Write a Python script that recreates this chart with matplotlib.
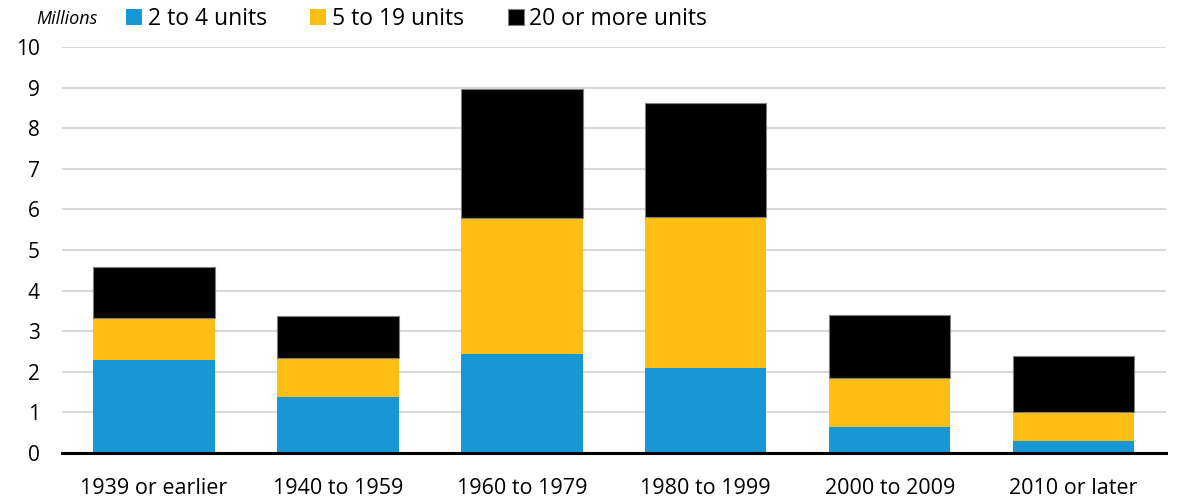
import matplotlib.pyplot as plt
import numpy as np

plt.rcParams['font.family'] = ['Open Sans', 'DejaVu Sans']

periods = ['1939 or earlier', '1940 to 1959', '1960 to 1979', '1980 to 1999', '2000 to 2009', '2010 or later']
units_2_4 = [2.30, 1.37, 2.43, 2.10, 0.63, 0.30]
units_5_19 = [1.03, 0.96, 3.36, 3.72, 1.22, 0.71]
units_20_plus = [1.24, 1.05, 3.18, 2.80, 1.56, 1.38]

fig = plt.figure(figsize=(11.81, 4.98), dpi=100)
ax = fig.add_axes([0.0525, 0.0904, 0.9345, 0.8152])

x = np.arange(len(periods))
w = 0.66
b1 = np.array(units_2_4)
b2 = b1 + np.array(units_5_19)
ax.bar(x, units_2_4, w, color='#1996d4', label='2 to 4 units', zorder=3)
ax.bar(x, units_5_19, w, bottom=b1, color='#fdbf14', label='5 to 19 units', zorder=3)
ax.bar(x, units_20_plus, w, bottom=b2, color='#000000', edgecolor='#808080', linewidth=0.8,
       label='20 or more units', zorder=3)

ax.set_xlim(-0.5, 5.5)
ax.set_ylim(0, 10)
ax.set_yticks(range(0, 11))
ax.set_xticks(x)
ax.set_xticklabels(periods)
ax.tick_params(axis='both', length=0)
ax.tick_params(axis='x', pad=18, labelsize=15.5)
ax.tick_params(axis='y', pad=16, labelsize=15)
ax.grid(axis='y', color='#d9d9d9', linewidth=1.5, zorder=0)
for s in ['top', 'right', 'left']:
    ax.spines[s].set_visible(False)
ax.spines['bottom'].set_linewidth(2.2)
ax.spines['bottom'].set_zorder(4)

fig.text(0.031, 0.962, 'Millions', fontsize=13, style='italic', va='center')
ax.legend(loc='center left', bbox_to_anchor=(0.058, 1.068), ncol=3, frameon=False,
          fontsize=16.5, handlelength=0.7, handleheight=0.7, handletextpad=0.25,
          columnspacing=1.9, borderaxespad=0, borderpad=0)

fig.savefig('out.png', dpi=100)
